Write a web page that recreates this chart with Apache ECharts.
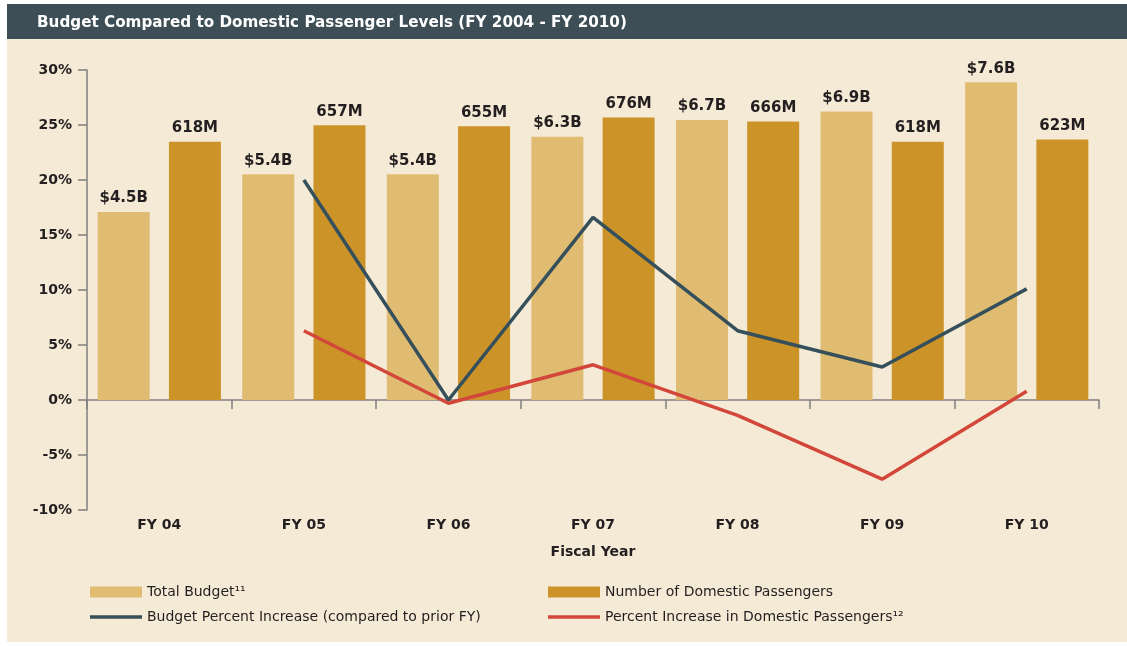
<!DOCTYPE html>
<html>
<head>
<meta charset="utf-8">
<title>Budget Compared to Domestic Passenger Levels</title>
<script src="https://cdn.jsdelivr.net/npm/echarts@6/dist/echarts.min.js"></script>
<style>
    html, body { margin: 0; padding: 0; background: #ffffff; }
    #main { width: 1127px; height: 646px; }
</style>
</head>
<body>
<div id="main"></div>
<script>
// categories and values
const fiscalYears = ['FY 04', 'FY 05', 'FY 06', 'FY 07', 'FY 08', 'FY 09', 'FY 10'];
// total budget, billions of dollars
const totalBudget = [4.5, 5.4, 5.4, 6.3, 6.7, 6.9, 7.6];
// domestic passengers, millions
const domesticPassengers = [618, 657, 655, 676, 666, 618, 623];
// percent increase compared to prior FY
const budgetIncrease = [null, 20.0, 0.0, 16.6, 6.3, 3.0, 10.1];
const passengerIncrease = [null, 6.3, -0.3, 3.2, -1.4, -7.2, 0.8];
// percent axis ticks
const percentMin = -10;
const percentMax = 30;
const percentStep = 5;
// the bars share the percent grid: 1 % of height = 1/3.8 B$ = 100/3.8 M passengers
const budgetPerPercent = 1 / 3.8;
const passengersPerPercent = 100 / 3.8;

// 名称（图例和系列共用）
const nameBudget = 'Total Budget\u00B9\u00B9';
const namePassengers = 'Number of Domestic Passengers';
const nameBudgetInc = 'Budget Percent Increase (compared to prior FY)';
const namePassInc = 'Percent Increase in Domestic Passengers\u00B9\u00B2';

const cream = '#F5EAD6';
const budgetColor = '#E0BC72';
const passengerColor = '#CC9329';
const slate = '#36505B';
const red = '#D2473A';
const ink = '#231F20';
const axisGray = '#7F7F7F';
const axisFont = 'DejaVu Sans';

const lineIcon = 'path://M0,0H52V3.5H0Z';

var myChart = echarts.init(document.getElementById('main'), null, { renderer: 'canvas' });

// 图例样式（两列共用）
function legendAt(left, names) {
    return {
        left: left, top: 585, orient: 'vertical', padding: 0,
        itemWidth: 52, itemHeight: 11, itemGap: 11,
        textStyle: { color: ink, fontFamily: axisFont, fontSize: 14 },
        data: names
    };
}

var option = {
    backgroundColor: '#ffffff',
    animation: false,
    graphic: [
        {
            // 米色底板
            type: 'rect', z: -10,
            shape: { x: 7, y: 39, width: 1120, height: 603 },
            style: { fill: cream }
        },
        {
            // 标题栏
            type: 'rect', z: -10,
            shape: { x: 7, y: 4, width: 1120, height: 35 },
            style: { fill: '#3D4E57' }
        }
    ],
    title: {
        text: 'Budget Compared to Domestic Passenger Levels (FY 2004 - FY 2010)',
        left: 32,
        top: 11,
        textStyle: { color: '#ffffff', fontFamily: axisFont, fontWeight: 'bold', fontSize: 15.2 }
    },
    legend: [
        legendAt(90, [
            { name: nameBudget, icon: 'rect' },
            { name: nameBudgetInc, icon: lineIcon }
        ]),
        legendAt(548, [
            { name: namePassengers, icon: 'rect' },
            { name: namePassInc, icon: lineIcon }
        ])
    ],
    grid: { left: 87, right: 28, top: 70, bottom: 136, containLabel: false },
    xAxis: [
        {
            // 零线和分隔刻度
            type: 'category',
            data: fiscalYears,
            axisLine: { onZero: true, lineStyle: { color: axisGray, width: 1.5 } },
            axisTick: { show: true, length: 9, lineStyle: { color: axisGray, width: 1.5 } },
            axisLabel: { show: false }
        },
        {
            // 底部类目标签
            type: 'category',
            data: fiscalYears,
            position: 'bottom',
            axisLine: { show: false, onZero: false },
            axisTick: { show: false },
            axisLabel: {
                margin: 8, color: ink,
                fontFamily: axisFont, fontWeight: 'bold', fontSize: 14
            },
            name: 'Fiscal Year',
            nameLocation: 'middle',
            nameGap: 35,
            nameTextStyle: { color: ink, fontFamily: axisFont, fontWeight: 'bold', fontSize: 14 }
        }
    ],
    yAxis: [
        {
            type: 'value',
            min: percentMin, max: percentMax, interval: percentStep,
            axisLine: { show: true, lineStyle: { color: axisGray, width: 1.5 } },
            axisTick: { show: true, length: 9, lineStyle: { color: axisGray, width: 1.5 } },
            splitLine: { show: false },
            axisLabel: {
                formatter: '{value}%', margin: 15, color: ink,
                fontFamily: axisFont, fontWeight: 'bold', fontSize: 14
            }
        },
        {
            // 预算（隐藏刻度）
            type: 'value', show: false,
            min: percentMin * budgetPerPercent, max: percentMax * budgetPerPercent
        },
        {
            // 乘客数（隐藏刻度）
            type: 'value', show: false,
            min: percentMin * passengersPerPercent, max: percentMax * passengersPerPercent
        }
    ],
    series: [
        {
            name: nameBudget,
            type: 'bar',
            xAxisIndex: 0, yAxisIndex: 1,
            barWidth: 52, barGap: '37%',
            itemStyle: { color: budgetColor },
            label: {
                show: true, position: 'top', distance: 6, color: ink,
                fontFamily: axisFont, fontWeight: 'bold', fontSize: 15,
                formatter: function (p) { return '$' + p.value.toFixed(1) + 'B'; }
            },
            data: totalBudget
        },
        {
            name: namePassengers,
            type: 'bar',
            xAxisIndex: 0, yAxisIndex: 2,
            barWidth: 52, barGap: '37%',
            itemStyle: { color: passengerColor },
            label: {
                show: true, position: 'top', distance: 6, color: ink,
                fontFamily: axisFont, fontWeight: 'bold', fontSize: 15,
                formatter: function (p) { return p.value + 'M'; }
            },
            data: domesticPassengers
        },
        {
            name: nameBudgetInc,
            type: 'line',
            xAxisIndex: 0, yAxisIndex: 0,
            symbol: 'none',
            itemStyle: { color: slate },
            lineStyle: { color: slate, width: 3.5 },
            z: 5,
            data: budgetIncrease
        },
        {
            name: namePassInc,
            type: 'line',
            xAxisIndex: 0, yAxisIndex: 0,
            symbol: 'none',
            itemStyle: { color: red },
            lineStyle: { color: red, width: 3.5 },
            z: 5,
            data: passengerIncrease
        }
    ]
};

myChart.setOption(option);
</script>
</body>
</html>
